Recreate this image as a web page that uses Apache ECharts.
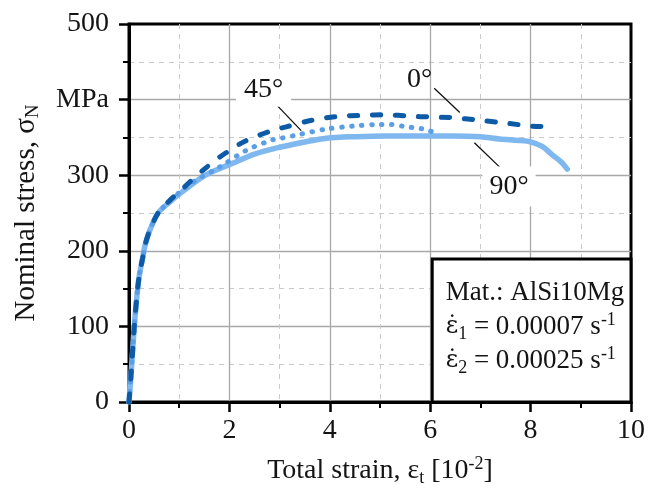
<!DOCTYPE html>
<html>
<head>
<meta charset="utf-8">
<script src="https://cdn.jsdelivr.net/npm/echarts@6/dist/echarts.min.js"></script>
<style>html,body{margin:0;padding:0;background:#fff}#c{width:648px;height:496px}</style>
</head>
<body>
<div id="c"></div>
<script>
// ---- data (strain in 10^-2, stress in MPa) ----
const strain0 = [0, 0.05, 0.1, 0.15, 0.2, 0.27, 0.33, 0.42, 0.58, 0.8, 1.0, 1.21, 1.5, 1.81, 2.01, 2.31, 2.8, 3.13, 3.66, 4.19, 4.65, 5.12, 5.59, 6.02, 6.48, 6.92, 7.51, 8.0, 8.5];
const stress0 = [0, 45, 95, 135, 165, 190, 210, 228, 250, 266, 278, 291, 308, 324, 333, 345, 358, 364, 373, 378, 379, 380, 378, 377, 376, 373, 369, 365, 364];

const strain45 = [0, 0.05, 0.1, 0.15, 0.2, 0.27, 0.33, 0.42, 0.58, 0.8, 1.0, 1.3, 1.81, 2.34, 2.87, 3.04, 3.4, 3.93, 4.46, 4.99, 5.22, 5.52, 5.79, 5.98, 6.14];
const stress45 = [0, 45, 95, 135, 165, 190, 210, 228, 250, 265, 277, 292, 311, 333, 347, 349, 354, 361, 365, 367, 367, 364, 362, 359, 354];

const strain90 = [0, 0.05, 0.1, 0.15, 0.2, 0.27, 0.33, 0.42, 0.58, 0.8, 1.0, 1.47, 1.74, 2.0, 2.5, 3.0, 3.5, 3.93, 4.5, 5.12, 5.8, 6.44, 7.0, 7.38, 7.77, 8.0, 8.23, 8.43, 8.6, 8.73];
const stress90 = [0, 45, 95, 135, 165, 190, 210, 228, 250, 264, 275, 298, 307, 314, 328, 337, 344, 349, 351, 352, 352, 352, 351, 348, 346, 344, 338, 327, 318, 308];

const xTicks = [0, 2, 4, 6, 8, 10];
const yTicks = [0, 100, 200, 300, 400, 500];
const yTickText = ['0', '100', '200', '300', 'MPa', '500'];

// annotation labels
const annText = ['45°', '0°', '90°'];
const annX = [2.68, 5.79, 7.57];
const annY = [413, 426, 285];
// leader lines
const leadFrom = [[2.94, 393], [6.08, 415], [6.88, 343]];
const leadTo = [[3.43, 359], [6.59, 383], [7.38, 311]];

// info box extent (data space)
const boxFrom = [6.04, 0];
const boxTo = [10, 189];

const FONT = '"Liberation Serif", "DejaVu Serif", serif';
const DOTFONT = '"DejaVu Serif", "Liberation Serif", serif';
const TXT = '#141414';

function pairs(xs, ys) { return xs.map((x, i) => [x, ys[i]]); }

const chart = echarts.init(document.getElementById('c'), null, { renderer: 'canvas' });

const option = {
  animation: false,
  backgroundColor: '#fff',
  grid: { left: 129, right: 16, top: 24, bottom: 94, show: true, borderColor: '#000', borderWidth: 3, backgroundColor: 'transparent' },
  xAxis: {
    type: 'value', min: xTicks[0], max: xTicks[xTicks.length - 1], interval: 2,
    axisLine: { lineStyle: { color: '#000', width: 3 } },
    axisTick: { length: 10, lineStyle: { color: '#000', width: 2.5 } },
    minorTick: { show: true, splitNumber: 2, length: 6, lineStyle: { color: '#000', width: 2 } },
    splitLine: { show: true, showMinLine: false, showMaxLine: false, lineStyle: { color: '#a8a8a8', width: 1.3 } },
    minorSplitLine: { show: true, lineStyle: { color: '#cacaca', width: 1, type: [5, 5] } },
    axisLabel: { fontFamily: FONT, fontSize: 28, color: TXT, margin: 15 },
    name: 'Total strain, ε{sub|t} [10{sup|-2}]',
    nameLocation: 'middle', nameGap: 52,
    nameTextStyle: {
      fontFamily: FONT, fontSize: 28, color: TXT,
      rich: {
        sub: { fontFamily: FONT, fontSize: 18, color: TXT, padding: [15, 0, 0, 0] },
        sup: { fontFamily: FONT, fontSize: 18, color: TXT, padding: [0, 0, 13, 0] }
      }
    }
  },
  yAxis: {
    type: 'value', min: yTicks[0], max: yTicks[yTicks.length - 1], interval: 100,
    axisLine: { lineStyle: { color: '#000', width: 3 } },
    axisTick: { length: 10, lineStyle: { color: '#000', width: 2.5 } },
    minorTick: { show: true, splitNumber: 2, length: 6, lineStyle: { color: '#000', width: 2 } },
    splitLine: { show: true, showMinLine: false, showMaxLine: false, lineStyle: { color: '#a8a8a8', width: 1.3 } },
    minorSplitLine: { show: true, lineStyle: { color: '#cacaca', width: 1, type: [5, 5] } },
    axisLabel: {
      fontFamily: FONT, fontSize: 28, color: TXT, margin: 20,
      formatter: v => { const i = yTicks.indexOf(v); return i >= 0 ? yTickText[i] : String(v); }
    },
    name: 'Nominal stress, σ{sub|N}',
    nameLocation: 'middle', nameRotate: 90, nameGap: 86,
    nameTextStyle: {
      fontFamily: FONT, fontSize: 29, color: TXT,
      rich: { sub: { fontFamily: FONT, fontSize: 19, color: TXT, padding: [15, 0, 0, 0] } }
    }
  },
  series: [
    {
      name: '90°', type: 'line', data: pairs(strain90, stress90), showSymbol: false, smooth: 0.3,
      lineStyle: { color: '#7fb7ef', width: 5.5, cap: 'round', join: 'round' }, z: 3,
      markArea: {
        silent: true,
        itemStyle: { color: '#fff', borderColor: '#000', borderWidth: 3 },
        label: {
          show: true, position: 'insideTopLeft', padding: [13, 0, 0, 10],
          formatter: '{t|Mat.: AlSi10Mg}\n{e|ε̇}{s|1}{t| = 0.00007 s}{p|-1}\n{e|ε̇}{s|2}{t| = 0.00025 s}{p|-1}',
          lineHeight: 34,
          rich: {
            t: { fontFamily: FONT, fontSize: 27, color: TXT, lineHeight: 34 },
            e: { fontFamily: DOTFONT, fontSize: 24, color: TXT, lineHeight: 34 },
            s: { fontFamily: FONT, fontSize: 18, color: TXT, lineHeight: 34, padding: [15, 0, 0, 0] },
            p: { fontFamily: FONT, fontSize: 18, color: TXT, lineHeight: 34, padding: [0, 0, 13, 0] }
          }
        },
        data: [[{ coord: boxFrom }, { coord: boxTo }]]
      }
    },
    {
      name: '45°', type: 'line', data: pairs(strain45, stress45), showSymbol: false, smooth: 0.3,
      lineStyle: { color: '#5b9ee6', width: 5, type: [0.5, 9.5], cap: 'round' }, z: 4
    },
    {
      name: '0°', type: 'line', data: pairs(strain0, stress0), showSymbol: false, smooth: 0.3,
      lineStyle: { color: '#0d5aa7', width: 5, type: [8, 15], cap: 'round' }, z: 5
    },
    {
      name: 'labels', type: 'scatter', symbolSize: 1, silent: true, z: 6,
      itemStyle: { opacity: 1, color: 'rgba(0,0,0,0)' },
      data: annText.map((t, i) => ({
        name: t, value: [annX[i], annY[i]],
        label: t === '0°' ? {} : { backgroundColor: '#fff', padding: t === '90°' ? [6, 7] : [3, 8] }
      })),
      label: {
        show: true, position: 'inside', formatter: '{b}', fontFamily: FONT, fontSize: 28,
        color: TXT, opacity: 1, textBorderWidth: 0
      },
      markLine: {
        silent: true, symbol: ['none', 'none'],
        lineStyle: { color: '#111', width: 1.3, type: 'solid' },
        label: { show: false },
        data: leadFrom.map((p, i) => [{ coord: p }, { coord: leadTo[i] }])
      }
    }
  ]
};
chart.setOption(option);
</script>
</body>
</html>
